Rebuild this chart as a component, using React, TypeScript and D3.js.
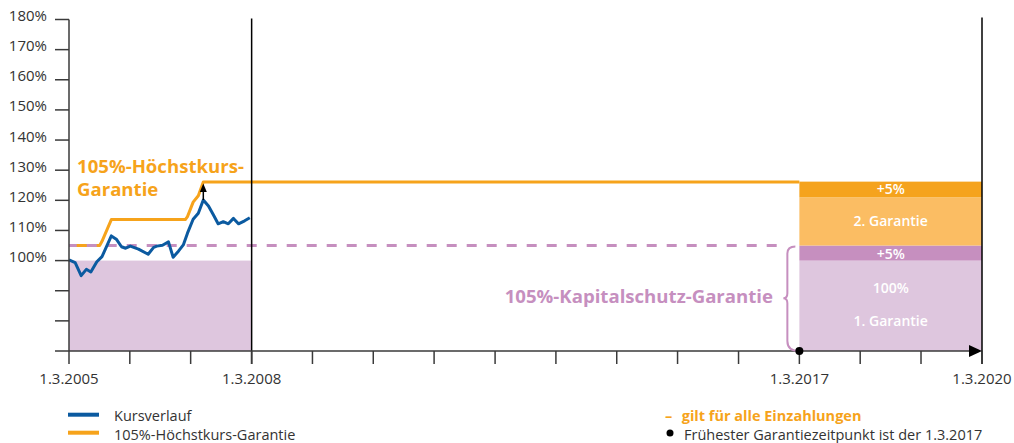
import React from "react";
import * as d3 from "d3";

// ---- data ----
const kursDates = [
  "2005-03-01", "2005-04-07", "2005-05-13", "2005-06-13", "2005-07-10", "2005-08-15",
  "2005-09-15", "2005-11-10", "2005-12-10", "2006-01-10", "2006-02-04", "2006-03-04",
  "2006-04-22", "2006-06-19", "2006-07-22", "2006-08-10", "2006-09-13", "2006-10-19",
  "2006-11-16", "2006-12-19", "2007-01-16", "2007-02-10", "2007-03-16", "2007-04-16",
  "2007-05-16", "2007-06-16", "2007-07-16", "2007-08-13", "2007-09-13", "2007-10-13",
  "2007-11-13", "2007-12-13", "2008-01-19", "2008-02-19",
];
const kursValues = [
  100.2, 99.3, 95.0, 97.1, 96.2, 99.6,
  101.3, 108.2, 107.1, 104.6, 104.1, 104.8,
  103.8, 102.1, 104.4, 104.8, 105.1, 106.2,
  101.1, 103.2, 105.2, 109.1, 113.7, 115.7,
  120.1, 118.1, 115.1, 112.2, 112.9, 112.2,
  114.0, 112.2, 113.2, 114.2,
];
const hoechstDates = [
  "2005-03-01", "2005-09-01", "2005-09-15", "2005-11-10", "2007-01-28",
  "2007-02-10", "2007-03-16", "2007-04-16", "2007-05-16", "2017-03-01",
];
const hoechstValues = [105, 105, 106.4, 113.6, 113.6, 114.6, 119.4, 121.5, 126.1, 126.1];

const kapitalschutzLevel = 105;
const basisLevel = 100;
const yTicks = [80, 90, 100, 110, 120, 130, 140, 150, 160, 170, 180];
const yLabelTicks = [100, 110, 120, 130, 140, 150, 160, 170, 180];
const xTickYears = d3.range(2005, 2021);
const xLabelYears = [2005, 2008, 2017, 2020];
const startDate = "2005-03-01";
const endDate = "2020-03-01";
const fruehesterDate = "2017-03-01";
const pastEndDate = "2008-03-01";

const blockBounds = [70, 100, 105, 121, 126.2];
const blockColors = ["#dec6de", "#c68fbf", "#fbbd63", "#f5a31d"];
const blockLabels = [
  { text: "100%", value: 91 },
  { text: "1. Garantie", value: 80 },
  { text: "+5%", value: 102 },
  { text: "2. Garantie", value: 113.2 },
  { text: "+5%", value: 123.7 },
];

const BLUE = "#0b5aa0";
const ORANGE = "#f6a31b";
const PURPLE = "#c68fbf";
const LIGHT_PURPLE = "#dec6de";
const AXIS = "#3a3a3a";
const FONT = "'Open Sans', sans-serif";

export default function App() {
  const W = 1014, H = 443;
  const parse = (s: string) => new Date(s + "T00:00:00");
  const x = d3.scaleTime().domain([parse(startDate), parse(endDate)]).range([69, 982]);
  const y = d3.scaleLinear().domain([70, 180]).range([351, 19.5]);

  const kurs = kursDates.map((d, i) => ({ d: parse(d), v: kursValues[i] }));
  const hoechst = hoechstDates.map((d, i) => ({ d: parse(d), v: hoechstValues[i] }));
  const line = d3.line<{ d: Date; v: number }>().x((p) => x(p.d)).y((p) => y(p.v));

  const x0 = x(parse(startDate));
  const x08 = x(parse(pastEndDate));
  const x17 = x(parse(fruehesterDate));
  const x20 = x(parse(endDate));
  const yBase = y(70);
  const yTop = y(180);

  const peak = kurs.reduce((a, b) => (b.v > a.v ? b : a));
  const peakX = x(peak.d);
  const peakHoechst = hoechst[hoechst.length - 1].v;

  // brace
  const bTop = y(kapitalschutzLevel);
  const bBot = yBase;
  const bMid = (bTop + bBot) / 2;
  const bx = x17 - 12;
  const brace = `M ${x17 - 4} ${bTop + 1} Q ${bx} ${bTop + 1} ${bx} ${bTop + 8}
    L ${bx} ${bMid - 5} Q ${bx} ${bMid} ${bx - 4} ${bMid}
    Q ${bx} ${bMid} ${bx} ${bMid + 5} L ${bx} ${bBot - 10}
    Q ${bx} ${bBot} ${x17} ${bBot}`;

  const fmtLabel = (yr: number) => `1.3.${yr}`;

  return (
    <svg width={W} height={H} style={{ position: "absolute", left: 0, top: 0, background: "#fff" }} fontFamily={FONT}>
      {/* past region fill */}
      <rect x={x0} y={y(basisLevel)} width={x08 - x0} height={yBase - y(basisLevel)} fill={LIGHT_PURPLE} />

      {/* orange Höchstkurs line */}
      <path d={line(hoechst) || ""} fill="none" stroke={ORANGE} strokeWidth={3} strokeLinejoin="round" />

      {/* dashed Kapitalschutz line */}
      <line x1={x0} x2={x17 - 22} y1={y(kapitalschutzLevel)} y2={y(kapitalschutzLevel)}
        stroke={PURPLE} strokeWidth={3} strokeDasharray="10 10" strokeDashoffset={2.3} />

      {/* guarantee block */}
      {blockColors.map((c, i) => (
        <rect key={i} x={x17} y={y(blockBounds[i + 1])} width={x20 - x17}
          height={y(blockBounds[i]) - y(blockBounds[i + 1])} fill={c} />
      ))}
      {blockLabels.map((l, i) => (
        <text key={i} x={(x17 + x20) / 2} y={y(l.value)} dy="0.35em" textAnchor="middle"
          fill="#fff" fontSize={14} fontWeight={600}>{l.text}</text>
      ))}

      {/* Kurs line */}
      <path d={line(kurs) || ""} fill="none" stroke={BLUE} strokeWidth={3} strokeLinejoin="round" />

      {/* arrow from peak to guarantee */}
      <line x1={peakX} x2={peakX} y1={y(peak.v)} y2={y(peakHoechst) + 8} stroke="#000" strokeWidth={1.5} />
      <path d={`M ${peakX} ${y(peakHoechst) + 1.5} L ${peakX - 3.5} ${y(peakHoechst) + 10} L ${peakX + 3.5} ${y(peakHoechst) + 10} Z`} fill="#000" />

      {/* y axis */}
      <line x1={x0} x2={x0} y1={yTop} y2={yBase} stroke={AXIS} strokeWidth={1.5} />
      {yTicks.map((t) => (
        <line key={t} x1={55} x2={x0} y1={y(t)} y2={y(t)} stroke={AXIS} strokeWidth={1.5} />
      ))}
      {yLabelTicks.map((t) => (
        <text key={t} x={47} y={y(t) + 1.5} textAnchor="end" fontSize={15} fill="#333">{t}%</text>
      ))}

      {/* vertical lines */}
      <line x1={x08} x2={x08} y1={yTop - 1} y2={yBase + 13} stroke="#000" strokeWidth={1.5} />
      <line x1={x20} x2={x20} y1={yTop - 2} y2={yBase + 13} stroke="#000" strokeWidth={1.5} />

      {/* x axis */}
      <line x1={55} x2={x20 - 10} y1={yBase} y2={yBase} stroke={AXIS} strokeWidth={1.5} />
      {xTickYears.map((yr) => {
        const xx = x(parse(`${yr}-03-01`));
        return <line key={yr} x1={xx} x2={xx} y1={yBase} y2={yBase + 13} stroke={AXIS} strokeWidth={1.5} />;
      })}
      <path d={`M ${x20} ${yBase} L ${x20 - 13} ${yBase - 6} L ${x20 - 13} ${yBase + 6} Z`} fill="#000" />
      {xLabelYears.map((yr) => (
        <text key={yr} x={x(parse(`${yr}-03-01`))} y={384} textAnchor="middle" fontSize={15} fill="#333">{fmtLabel(yr)}</text>
      ))}

      {/* brace and label */}
      <path d={brace} fill="none" stroke={PURPLE} strokeWidth={2} />
      <text x={773} y={303} textAnchor="end" fontSize={18.6} fontWeight={700} fill={PURPLE}>105%-Kapitalschutz-Garantie</text>

      {/* Höchstkurs label */}
      <text x={77} y={173} fontSize={18.6} fontWeight={700} fill={ORANGE}>105%-Höchstkurs-</text>
      <text x={77} y={196} fontSize={18.6} fontWeight={700} fill={ORANGE}>Garantie</text>

      {/* frühester point */}
      <circle cx={x17} cy={yBase} r={4} fill="#000" />

      {/* legend */}
      <line x1={68} x2={99} y1={414.7} y2={414.7} stroke={BLUE} strokeWidth={4} />
      <text x={114} y={420.5} fontSize={14.5} fill="#333">Kursverlauf</text>
      <line x1={68} x2={99} y1={432.7} y2={432.7} stroke={ORANGE} strokeWidth={4} />
      <text x={114} y={439.5} fontSize={14.5} fill="#333">105%-Höchstkurs-Garantie</text>

      <text x={665} y={420.5} fontSize={14.5} fontWeight={700} fill={ORANGE}>–</text>
      <text x={681.7} y={420.5} fontSize={14.5} fontWeight={700} fill={ORANGE}>gilt für alle Einzahlungen</text>
      <circle cx={670} cy={433} r={3.5} fill="#000" />
      <text x={684} y={439.5} fontSize={14.5} fill="#333">Frühester Garantiezeitpunkt ist der 1.3.2017</text>
    </svg>
  );
}
